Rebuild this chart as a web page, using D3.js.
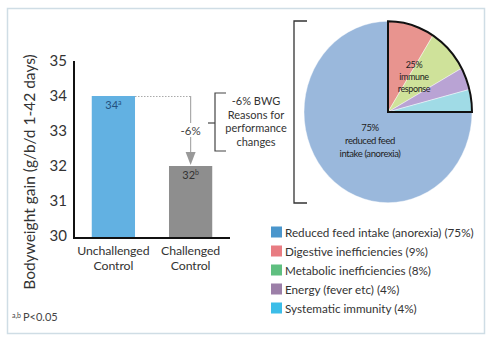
<html>
<head>
<meta charset="utf-8">
<style>
  body { margin: 0; background: #fff; }
  text { font-family: Lato, "Open Sans", sans-serif; }
</style>
</head>
<body>
<script src="https://d3js.org/d3.v7.min.js"></script>
<div id="chart"></div>
<script>
// bar chart data
var groups = ["Unchallenged Control", "Challenged Control"];
var gain = [34, 32];
var gainLabels = ["34", "32"];
var gainSup = ["a", "b"];
var yTicks = [30, 31, 32, 33, 34, 35];

// pie / legend data
var causes = ["Reduced feed intake (anorexia)", "Digestive inefficiencies", "Metabolic inefficiencies", "Energy (fever etc)", "Systematic immunity"];
var shares = [75, 9, 8, 4, 4];
var pieColors = ["#9ab8dc", "#e8948f", "#cfe29a", "#b9a3d4", "#a0dbe6"];
var keyColors = ["#4a96cc", "#e87c82", "#5fbf80", "#9c7fa8", "#3cbde8"];

var W = 493, H = 342;
var svg = d3.select("#chart").append("svg")
    .attr("width", W).attr("height", H);

// frame
svg.append("rect")
    .attr("x", 7.5).attr("y", 8.5).attr("width", 477).attr("height", 325)
    .attr("fill", "none").attr("stroke", "#cfdde5").attr("stroke-width", 1.5);

// ---- bars ----
var x = d3.scaleBand().domain(groups).range([74, 230]).paddingInner(0.44).paddingOuter(0.23);
var y = d3.scaleLinear().domain([30, 35]).range([236, 61]);
var baseY = 238;

var xt = svg.append("g");
groups.forEach(function(g, i) {
  var t = xt.append("text")
      .attr("x", x(g) + x.bandwidth() / 2).attr("y", 255)
      .attr("text-anchor", "middle").attr("font-size", 12.3).attr("fill", "#333")
      .attr("letter-spacing", -0.1);
  g.split(" ").forEach(function(w, j) {
    t.append("tspan").attr("x", x(g) + x.bandwidth() / 2).attr("dy", j ? 15 : 0).text(w);
  });
});

var yAxis = svg.append("g")
    .attr("transform", "translate(74,0)")
    .call(d3.axisLeft(y).tickValues(yTicks).tickFormat(d3.format("d")).tickSize(0).tickPadding(7));
yAxis.select(".domain").remove();
yAxis.selectAll("text").attr("font-size", 15).attr("fill", "#333")
    .attr("font-family", "Lato, sans-serif");

svg.append("text")
    .attr("transform", "translate(35,172) rotate(-90)")
    .attr("text-anchor", "middle").attr("font-size", 15.5).attr("fill", "#333")
    .text("Bodyweight gain (g/b/d 1-42 days)");

svg.selectAll(".bar").data(gain).enter().append("rect")
    .attr("x", function(d, i) { return x(groups[i]); })
    .attr("y", function(d) { return y(d); })
    .attr("width", x.bandwidth())
    .attr("height", function(d) { return baseY - y(d); })
    .attr("fill", function(d, i) { return i ? "#8e8e8e" : "#62b1e2"; });

gain.forEach(function(d, i) {
  var t = svg.append("text")
      .attr("x", x(groups[i]) + x.bandwidth() / 2).attr("y", y(d) + 13)
      .attr("text-anchor", "middle").attr("font-size", 11)
      .attr("fill", i ? "#333" : "#24507e");
  t.append("tspan").text(gainLabels[i]);
  t.append("tspan").attr("font-size", 7).attr("dy", -4).text(gainSup[i]);
});

// axes lines
svg.append("line").attr("x1", 74).attr("x2", 74).attr("y1", 61).attr("y2", baseY + 1)
    .attr("stroke", "#111").attr("stroke-width", 2);
svg.append("line").attr("x1", 73).attr("x2", 230).attr("y1", baseY).attr("y2", baseY)
    .attr("stroke", "#111").attr("stroke-width", 2);

// drop arrow from first bar level to second
var ax = x(groups[1]) + x.bandwidth() / 2;
svg.append("line")
    .attr("x1", x(groups[0]) + x.bandwidth()).attr("x2", ax)
    .attr("y1", y(gain[0]) + 0.5).attr("y2", y(gain[0]) + 0.5)
    .attr("stroke", "#aaa").attr("stroke-dasharray", "1.5,1.5");
svg.append("line").attr("x1", ax).attr("x2", ax)
    .attr("y1", y(gain[0])).attr("y2", y(gain[1]) - 10)
    .attr("stroke", "#aaa").attr("stroke-width", 1.2);
svg.append("path")
    .attr("d", "M" + (ax - 5) + "," + (y(gain[1]) - 14) + "L" + ax + "," + (y(gain[1]) - 1) + "L" + (ax + 5) + "," + (y(gain[1]) - 14) + "Z")
    .attr("fill", "#999");
var midY = (y(gain[0]) + y(gain[1])) / 2;
svg.append("rect").attr("x", ax - 12).attr("y", midY - 8).attr("width", 24).attr("height", 14).attr("fill", "#fff");
svg.append("text").attr("x", ax).attr("y", midY + 4)
    .attr("text-anchor", "middle").attr("font-size", 11.5).attr("fill", "#444").text("-6%");

// small bracket
var br = svg.append("g").attr("stroke", "#444").attr("fill", "none").attr("stroke-width", 1.2);
br.append("path").attr("d", "M226,93H215V151H226");
br.append("path").attr("d", "M208,123H215");
var bt = svg.append("text").attr("text-anchor", "middle").attr("font-size", 11).attr("fill", "#333");
["-6% BWG", "Reasons for", "performance", "changes"].forEach(function(s, i) {
  bt.append("tspan").attr("x", 256).attr("y", 105 + i * 13.5).text(s);
});

// large bracket
svg.append("path").attr("d", "M307,21H294V203H307")
    .attr("stroke", "#333").attr("fill", "none").attr("stroke-width", 1.3);

// ---- pie ----
var cx = 388, cy = 112, r = 84;
var pie = d3.pie().sort(null).value(function(d) { return d; })
    .startAngle(Math.PI / 2).endAngle(Math.PI / 2 + 2 * Math.PI);
var arcs = pie(shares);
var arc = d3.arc().innerRadius(0).outerRadius(r);
var pg = svg.append("g").attr("transform", "translate(" + cx + "," + cy + ") scale(1,1.08)");
pg.selectAll("path.slice").data(arcs).enter().append("path")
    .attr("d", arc)
    .attr("fill", function(d, i) { return pieColors[i]; })
    .attr("stroke", "#fff").attr("stroke-width", 0.4);

// outline the 25% quadrant
var minor = d3.sum(shares.slice(1));
pg.append("path")
    .attr("d", arc({ startAngle: 0, endAngle: 2 * Math.PI * minor / 100 }))
    .attr("fill", "none").attr("stroke", "#111").attr("stroke-width", 2).attr("stroke-linejoin", "miter");

var innerFont = "'Liberation Sans Narrow', 'DejaVu Sans Condensed', sans-serif";
var t1 = svg.append("text").attr("text-anchor", "middle").attr("font-size", 9)
    .attr("fill", "#222").attr("font-family", innerFont).attr("letter-spacing", -0.4);
[minor + "%", "immune", "response"].forEach(function(s, i) {
  t1.append("tspan").attr("x", 414).attr("y", 68 + i * 12).text(s);
});
var t2 = svg.append("text").attr("text-anchor", "middle").attr("font-size", 9.5)
    .attr("fill", "#222").attr("font-family", innerFont).attr("letter-spacing", -0.4);
[shares[0] + "%", "reduced feed", "intake (anorexia)"].forEach(function(s, i) {
  t2.append("tspan").attr("x", 370).attr("y", 131 + i * 13).text(s);
});

// legend
var lg = svg.append("g");
causes.forEach(function(c, i) {
  var ly = 232 + i * 19;
  lg.append("rect").attr("x", 271).attr("y", ly - 5.5).attr("width", 11).attr("height", 11)
      .attr("fill", keyColors[i]);
  lg.append("text").attr("x", 285).attr("y", ly + 4.5)
      .attr("font-size", 11.7).attr("fill", "#333")
      .text(c + " (" + shares[i] + "%)");
});

// footnote
var fn = svg.append("text").attr("x", 12).attr("y", 321).attr("font-size", 11).attr("fill", "#444");
fn.append("tspan").attr("font-size", 7).attr("dy", -3).text("a,b");
fn.append("tspan").attr("dx", 2).attr("dy", 3).text("P<0.05");
</script>
</body>
</html>
